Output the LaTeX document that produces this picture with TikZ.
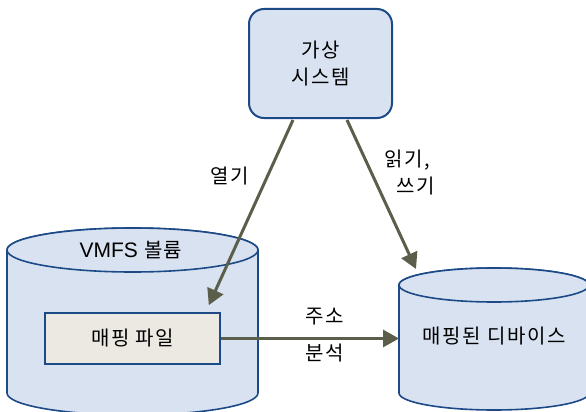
\documentclass[tikz,border=0pt]{standalone}
\usepackage{fontspec}
\setmainfont[LetterSpace=8]{Noto Sans CJK KR}
\newfontfamily\latinfont{Liberation Sans}
\usetikzlibrary{arrows.meta}
\definecolor{cylfill}{HTML}{D9E2F1}
\definecolor{cylline}{HTML}{1C4A87}
\definecolor{arrowc}{HTML}{5C5E4C}
\definecolor{filefill}{HTML}{ECE9E3}
\tikzset{
  cyl/.style={fill=cylfill, draw=cylline, line width=1.6pt},
  sysbox/.style={fill=cylfill, draw=cylline, line width=2pt, rounded corners=15pt, minimum width=143pt, minimum height=109pt, align=center, inner sep=0pt},
  filebox/.style={fill=filefill, draw=cylline, line width=1.6pt, minimum width=175pt, minimum height=51pt, inner sep=0pt},
  conn/.style={draw=arrowc, line width=3pt, -{Triangle[length=16pt,width=17pt]}},
  lbl/.style={inner sep=0pt, align=center},
}
\begin{document}
\begin{tikzpicture}[x=1pt,y=1pt, every node/.style={font=\fontsize{20}{27}\selectfont}]
\useasboundingbox (0,0) rectangle (586,-412);
% left cylinder
\path[cyl] (7,-250) -- (7,-393) arc[start angle=180,end angle=360,x radius=125.5,y radius=22] -- (258,-250) arc[start angle=0,end angle=180,x radius=125.5,y radius=22] -- cycle;
\draw[cyl] (132.5,-250) ellipse[x radius=125.5,y radius=22];
% right cylinder
\path[cyl] (399,-285) -- (399,-393) arc[start angle=180,end angle=360,x radius=95,y radius=17] -- (589,-285) arc[start angle=0,end angle=180,x radius=95,y radius=17] -- cycle;
\draw[cyl] (494,-285) ellipse[x radius=95,y radius=17];
% nodes
\node[sysbox] (sys) at (320.5,-63.5) {가상\\시스템};
\node[lbl] (vmfs) at (131,-250) {{\latinfont\fontsize{21}{27}\selectfont VMFS} 볼륨};
\node[filebox] (file) at (132.5,-338.5) {매핑 파일};
\node[lbl] (dev) at (494,-336) {매핑된 디바이스};
\coordinate (devtop) at (416,-269);
\coordinate (devleft) at (399,-338.5);
% connectors
\draw[conn] ([xshift=-27.5pt,yshift=-1pt]sys.south) -- ([xshift=-12pt,yshift=7pt]file.north east);
\draw[conn] ([xshift=26.5pt,yshift=-1pt]sys.south) -- (devtop);
\draw[conn] (file.east) -- (devleft);
% labels
\node[lbl] (open) at (230,-176) {열기};
\node[lbl, align=left, anchor=north west] (rw) at (384,-150) {읽기,\\\hspace{12pt}쓰기};
\node[lbl] (addr1) at (325,-317) {주소};
\node[lbl] (addr2) at (325,-353) {분석};
\end{tikzpicture}
\end{document}
